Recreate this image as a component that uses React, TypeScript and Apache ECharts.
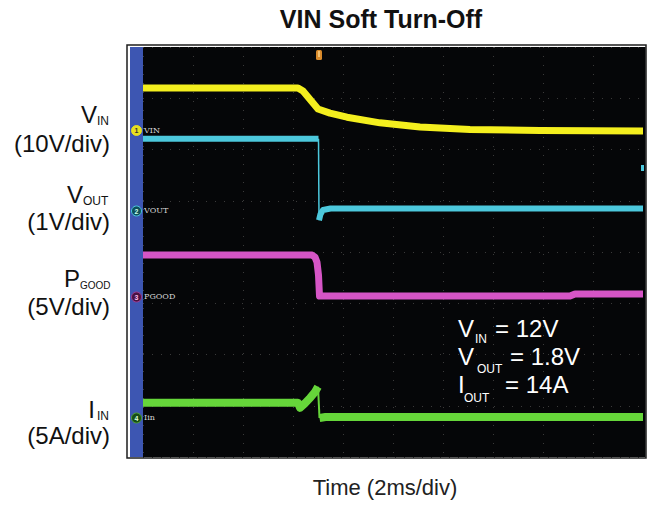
import React, { useEffect, useRef } from "react";
import * as echarts from "echarts";

const FONT = "'Liberation Sans', Arial, Helvetica, sans-serif";

// Time in ms (2 ms/div, 10 div); level in screen divisions (8 div, 0 = bottom)
const vinTime = [0, 6.2, 6.4, 7.0, 7.48, 8.16, 9.48, 11.08, 13.08, 15.88, 20];
const vinLevel = [7.2, 7.2, 7.14, 6.79, 6.71, 6.63, 6.52, 6.44, 6.39, 6.37, 6.36];

const voutTime = [0, 7.02, 7.04, 7.1, 7.2, 7.5, 20];
const voutLevel = [6.21, 6.21, 4.62, 4.74, 4.82, 4.85, 4.85];

const pgoodTime = [0, 6.76, 6.88, 6.96, 7.02, 7.06, 17.08, 17.28, 20];
const pgoodLevel = [3.94, 3.94, 3.9, 3.8, 3.55, 3.14, 3.14, 3.18, 3.18];

const iinTime = [0, 6.2, 6.28, 6.48, 6.68, 6.88, 7.0, 7.06, 7.3, 20];
const iinLevel = [1.06, 1.06, 0.96, 1.05, 1.15, 1.27, 1.37, 0.76, 0.78, 0.78];

const xTicks = { min: 0, max: 20, interval: 2 };
const yTicks = { min: 0, max: 8, interval: 1 };

const zip = (t: number[], v: number[]) => t.map((x, i) => [x, v[i]]);

export default function App() {
  const ref = useRef<HTMLDivElement>(null);
  useEffect(() => {
    if (!ref.current) return;
    const chart = echarts.init(ref.current, null, { renderer: "svg" });
    const vout = zip(voutTime, voutLevel);
    const iin = zip(iinTime, iinLevel);
    const line = (name: string, data: number[][], color: string, width: number) => ({
      name,
      type: "line",
      data,
      showSymbol: false,
      symbol: "none",
      lineStyle: { color, width, join: "round", cap: "butt" },
      itemStyle: { color },
      z: 5,
    });
    const txt = (
      text: string,
      x: number,
      y: number,
      size: number,
      align: string,
      fill = "#111",
      weight = "normal"
    ) => ({
      type: "text",
      x,
      y,
      z: 100,
      style: {
        text,
        fill,
        font: `${weight} ${size}px ${FONT}`,
        textAlign: align,
        textVerticalAlign: "middle",
      },
    });
    const marker = (n: string, y: number, fill: string, stroke: string, numColor: string, label: string) => [
      {
        type: "circle",
        z: 100,
        shape: { cx: 136.5, cy: y, r: 5 },
        style: { fill, stroke, lineWidth: 1 },
      },
      {
        type: "text",
        x: 136.5,
        y,
        z: 101,
        style: { text: n, fill: numColor, font: `bold 7px ${FONT}`, textAlign: "center", textVerticalAlign: "middle" },
      },
      {
        type: "text",
        x: 144,
        y: y - 0.5,
        z: 101,
        style: { text: label, fill: "#d8d8d8", font: `8px 'DejaVu Serif', serif`, textAlign: "left", textVerticalAlign: "middle" },
      },
    ];

    chart.setOption({
      animation: false,
      backgroundColor: "#ffffff",
      grid: {
        left: 143,
        top: 47,
        width: 500,
        height: 410,
        show: true,
        backgroundColor: "#050608",
        borderWidth: 0,
      },
      xAxis: {
        type: "value",
        ...xTicks,
        axisLine: { show: false },
        axisTick: { show: false },
        axisLabel: { show: false },
        splitLine: { show: true, lineStyle: { color: "#3a3a3a", width: 1, type: [1, 8] } },
      },
      yAxis: {
        type: "value",
        ...yTicks,
        axisLine: { show: false },
        axisTick: { show: false },
        axisLabel: { show: false },
        splitLine: { show: true, lineStyle: { color: "#3a3a3a", width: 1, type: [1, 8] } },
      },
      series: [
        line("VIN", zip(vinTime, vinLevel), "#f4ef1e", 7),
        line("VOUT", vout.slice(0, 2), "#4cc8dc", 6),
        line("VOUT drop", vout.slice(1, 3), "#4cc8dc", 1.5),
        line("VOUT after", vout.slice(2), "#4cc8dc", 6),
        line("PGOOD", zip(pgoodTime, pgoodLevel), "#d655c6", 7),
        line("IIN", iin.slice(0, 7), "#66d63a", 8),
        line("IIN drop", iin.slice(6, 8), "#66d63a", 2),
        line("IIN after", iin.slice(7), "#66d63a", 8),
      ],
      graphic: [
        // scope frame
        {
          type: "rect",
          z: 90,
          shape: { x: 127, y: 45, width: 519, height: 413 },
          style: { fill: "none", stroke: "#1e1e1e", lineWidth: 1.5 },
        },
        {
          type: "rect",
          z: 91,
          shape: { x: 130, y: 47, width: 13, height: 410 },
          style: { fill: "#3d56b2" },
        },
        {
          type: "rect",
          z: 91,
          shape: { x: 643, y: 47, width: 2.5, height: 410 },
          style: { fill: "#050608" },
        },
        // trigger marker
        {
          type: "rect",
          z: 100,
          shape: { x: 316, y: 50, width: 6, height: 10, r: 1.5 },
          style: { fill: "#d98a2b" },
        },
        {
          type: "rect",
          z: 101,
          shape: { x: 318, y: 51, width: 2, height: 6 },
          style: { fill: "#f2c070" },
        },
        // trigger level marker
        {
          type: "rect",
          z: 100,
          shape: { x: 641, y: 165, width: 3, height: 6 },
          style: { fill: "#4cc8dc" },
        },
        ...marker("1", 130.5, "#e8e020", "#e8e020", "#333", "VIN"),
        ...marker("2", 211, "#0e4f5a", "#4cc8dc", "#cfe", "VOUT"),
        ...marker("3", 297, "#4a1242", "#a03a90", "#fbe", "PGOOD"),
        ...marker("4", 418, "#184d14", "#4ea032", "#dfd", "Iin"),
        // title and x label
        txt("VIN Soft Turn-Off", 381, 19, 25, "center", "#111", "bold"),
        txt("Time (2ms/div)", 385, 487, 22, "center", "#222"),
        // left channel labels
        txt("V", 97, 114.4, 24, "right"),
        txt("IN", 97, 121, 12, "left"),
        txt("(10V/div)", 110, 143.5, 24, "right"),
        txt("V", 83, 194.4, 24, "right"),
        txt("OUT", 83, 200.5, 12, "left"),
        txt("(1V/div)", 110, 221, 24, "right"),
        txt("P", 80, 278.4, 24, "right"),
        txt("GOOD", 80, 285.5, 10, "left"),
        txt("(5V/div)", 110, 306, 24, "right"),
        txt("I", 95, 409.4, 24, "right"),
        txt("IN", 97, 415.5, 12, "left"),
        txt("(5A/div)", 110, 435, 24, "right"),
        // conditions
        txt("V", 458, 328.4, 24, "left", "#ffffff"),
        txt("IN", 475, 338.7, 12, "left", "#ffffff"),
        txt("= 12V", 495, 328.4, 24, "left", "#ffffff"),
        txt("V", 458, 356.4, 24, "left", "#ffffff"),
        txt("OUT", 477, 368.7, 12, "left", "#ffffff"),
        txt("= 1.8V", 510, 356.4, 24, "left", "#ffffff"),
        txt("I", 458, 384.4, 24, "left", "#ffffff"),
        txt("OUT", 464, 397.7, 12, "left", "#ffffff"),
        txt("= 14A", 505, 384.4, 24, "left", "#ffffff"),
      ],
    });
    return () => chart.dispose();
  }, []);
  return (
    <div
      ref={ref}
      style={{ position: "absolute", left: 0, top: 0, width: 655, height: 506 }}
    />
  );
}
